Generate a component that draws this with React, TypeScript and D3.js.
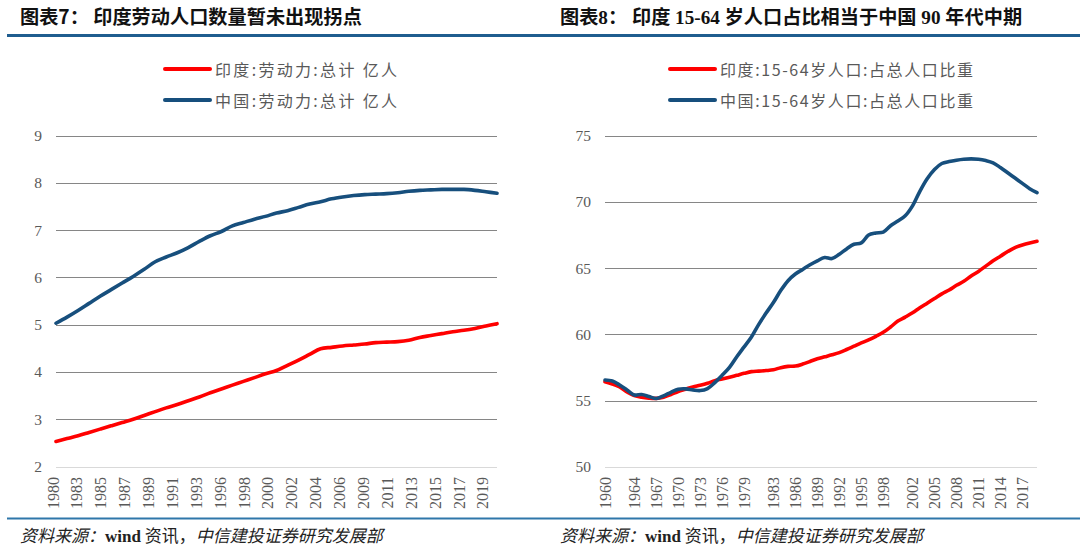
import React from 'react';
import * as d3 from 'd3';

// ---------- Chart 7: labor force (亿人) ----------
const laborYears = d3.range(1980, 2021);
const indiaLabor = [
  2.53, 2.59, 2.65, 2.72, 2.79, 2.86, 2.93, 3.0, 3.08, 3.16,
  3.24, 3.31, 3.39, 3.47, 3.56, 3.64, 3.72, 3.8, 3.88, 3.96,
  4.03, 4.14, 4.25, 4.37, 4.49, 4.52, 4.55, 4.57, 4.59, 4.62,
  4.63, 4.64, 4.67, 4.73, 4.77, 4.81, 4.85, 4.88, 4.92, 4.97,
  5.02,
];
const chinaLabor = [
  5.03, 5.16, 5.3, 5.45, 5.6, 5.74, 5.88, 6.02, 6.17, 6.33,
  6.43, 6.52, 6.63, 6.76, 6.88, 6.97, 7.09, 7.16, 7.23, 7.29,
  7.36, 7.41, 7.48, 7.55, 7.6, 7.66, 7.7, 7.73, 7.75, 7.76,
  7.77, 7.79, 7.82, 7.84, 7.85, 7.86, 7.86, 7.86, 7.84, 7.81,
  7.78,
];
const laborTickLabels = [
  '1980', '1983', '1985', '1987', '1989', '1991', '1993', '1996', '1998', '2000',
  '2002', '2004', '2006', '2009', '2011', '2013', '2015', '2017', '2019',
];
const laborYTicks = [2, 3, 4, 5, 6, 7, 8, 9];

// ---------- Chart 8: 15-64 share (%) ----------
const shareYears = d3.range(1960, 2020);
const indiaShare = [
  56.42, 56.25, 56.02, 55.65, 55.38, 55.25, 55.18, 55.16, 55.25, 55.45,
  55.68, 55.85, 56.03, 56.15, 56.3, 56.5, 56.62, 56.75, 56.9, 57.05,
  57.18, 57.22, 57.26, 57.32, 57.48, 57.58, 57.6, 57.75, 57.95, 58.15,
  58.3, 58.45, 58.62, 58.85, 59.1, 59.35, 59.58, 59.85, 60.15, 60.55,
  61.0, 61.3, 61.62, 62.0, 62.35, 62.7, 63.05, 63.35, 63.7, 64.0,
  64.4, 64.75, 65.15, 65.55, 65.9, 66.25, 66.55, 66.75, 66.9, 67.02,
];
const chinaShare = [
  56.55, 56.47, 56.17, 55.8, 55.42, 55.45, 55.3, 55.15, 55.35, 55.62,
  55.85, 55.88, 55.8, 55.75, 55.9, 56.35, 56.9, 57.5, 58.3, 59.05,
  59.8, 60.75, 61.6, 62.4, 63.3, 64.05, 64.55, 64.9, 65.25, 65.55,
  65.8, 65.72, 66.05, 66.45, 66.8, 66.9, 67.5, 67.65, 67.72, 68.2,
  68.55, 68.95, 69.7, 70.8, 71.75, 72.45, 72.9, 73.05, 73.15, 73.22,
  73.25, 73.22, 73.12, 72.95, 72.6, 72.2, 71.8, 71.4, 71.0, 70.7,
];
const shareTickLabels = [
  1960, 1964, 1967, 1970, 1973, 1976, 1979, 1983, 1986, 1989,
  1992, 1995, 1998, 2002, 2005, 2008, 2011, 2014, 2017,
];
const shareYTicks = [50, 55, 60, 65, 70, 75];

const RED = '#ff0000';
const BLUE = '#174f7d';
const GRAY_TEXT = '#595959';
const SERIF = "'Liberation Serif', 'Times New Roman', serif";
const CJK = "'Noto Sans CJK SC', sans-serif";

type Series = { name: string; color: string; values: number[] };

function Panel(props: {
  years: number[];
  series: Series[];
  yTicks: number[];
  xLeft: number;
  xRight: number;
  yTop: number;
  yBottom: number;
  xDomain: [number, number];
  tickLabels: (string | number)[];
  evenLabels: boolean;
  legendX: number;
  legendTextWidth: number;
}) {
  const { years, series, yTicks, xLeft, xRight, yTop, yBottom, xDomain, tickLabels, evenLabels, legendX, legendTextWidth } = props;
  const x = d3.scaleLinear().domain(xDomain).range([xLeft, xRight]);
  const y = d3
    .scaleLinear()
    .domain([yTicks[0], yTicks[yTicks.length - 1]])
    .range([yBottom, yTop]);
  const labelPos = d3
    .scalePoint<string>()
    .domain(tickLabels.map(String))
    .range([x(Number(tickLabels[0])) - 3, x(Number(tickLabels[tickLabels.length - 1])) - 3]);
  const line = d3
    .line<number>()
    .x((_, i) => x(years[i]))
    .y((d) => y(d))
    .curve(d3.curveCatmullRom.alpha(0.5));

  return (
    <g>
      {yTicks.map((t, i) => (
        <g key={t}>
          <line
            x1={xLeft}
            x2={xRight}
            y1={Math.round(y(t)) + 0.5}
            y2={Math.round(y(t)) + 0.5}
            stroke={i === 0 ? '#d9d9d9' : '#868686'}
            strokeWidth={1}
          />
          <text
            x={xLeft - 14}
            y={y(t)}
            textAnchor="end"
            dominantBaseline="central"
            fontFamily={SERIF}
            fontSize={15.5}
            fill={GRAY_TEXT}
          >
            {t}
          </text>
        </g>
      ))}
      {tickLabels.map((lab) => {
        const cx = evenLabels ? (labelPos(String(lab)) as number) : x(Number(lab));
        return (
          <text
            key={String(lab)}
            transform={`translate(${cx + 5.5},477) rotate(-90)`}
            textAnchor="end"
            fontFamily={SERIF}
            fontSize={16}
            fill={GRAY_TEXT}
          >
            {lab}
          </text>
        );
      })}
      {series.map((s) => (
        <path
          key={s.name}
          d={line(s.values) || ''}
          fill="none"
          stroke={s.color}
          strokeWidth={3.6}
          strokeLinecap="round"
          strokeLinejoin="round"
        />
      ))}
      {series.map((s, i) => {
        const ly = 69 + i * 31;
        return (
          <g key={'lg' + s.name}>
            <line x1={legendX} x2={legendX + 45} y1={ly} y2={ly} stroke={s.color} strokeWidth={4} strokeLinecap="round" />
            <text
              x={legendX + 50}
              y={ly}
              dominantBaseline="central"
              fontFamily={CJK}
              fontSize={16}
              fill={GRAY_TEXT}
              textLength={legendTextWidth}
              lengthAdjust="spacing"
            >
              {s.name}
            </text>
          </g>
        );
      })}
    </g>
  );
}

function Footer({ x0 }: { x0: number }) {
  return (
    <text x={x0} y={542} fontSize={17} fill="#222" fontFamily={CJK}>
      <tspan fontStyle="italic">资料来源：</tspan>
      <tspan fontFamily={SERIF} fontWeight="bold">wind</tspan>
      <tspan> 资讯，</tspan>
      <tspan fontStyle="italic">中信建投证券研究发展部</tspan>
    </text>
  );
}

export default function App() {
  return (
    <svg
      width={1080}
      height={551}
      viewBox="0 0 1080 551"
      style={{ position: 'absolute', left: 0, top: 0, background: '#fff' }}
    >
      <rect x={0} y={0} width={1080} height={551} fill="#fff" />
      <text x={20} y={24} fontFamily={CJK} fontWeight="bold" fontSize={19.2} fill="#111">
        图表7： 印度劳动人口数量暂未出现拐点
      </text>
      <text x={560} y={24} fontFamily={`${SERIF.split(',')[0]}, ${CJK}`} fontWeight="bold" fontSize={19.2} fill="#111">
        图表8： 印度 15-64 岁人口占比相当于中国 90 年代中期
      </text>
      <line x1={7} x2={1080} y1={35.5} y2={35.5} stroke="#1f5d8f" strokeWidth={3} />

      <Panel
        years={laborYears}
        series={[
          { name: '印度:劳动力:总计 亿人', color: RED, values: indiaLabor },
          { name: '中国:劳动力:总计 亿人', color: BLUE, values: chinaLabor },
        ]}
        yTicks={laborYTicks}
        xLeft={56}
        xRight={497}
        yTop={135.5}
        yBottom={466.5}
        xDomain={[1980, 2020]}
        tickLabels={laborTickLabels}
        evenLabels={true}
        legendX={165}
        legendTextWidth={182}
      />
      <Panel
        years={shareYears}
        series={[
          { name: '印度:15-64岁人口:占总人口比重', color: RED, values: indiaShare },
          { name: '中国:15-64岁人口:占总人口比重', color: BLUE, values: chinaShare },
        ]}
        yTicks={shareYTicks}
        xLeft={605}
        xRight={1037}
        yTop={135.7}
        yBottom={466.7}
        xDomain={[1960, 2019]}
        tickLabels={shareTickLabels}
        evenLabels={false}
        legendX={670}
        legendTextWidth={253}
      />

      <line x1={7} x2={1080} y1={518.5} y2={518.5} stroke="#2f77aa" strokeWidth={2} />
      <Footer x0={20} />
      <Footer x0={560} />
    </svg>
  );
}
